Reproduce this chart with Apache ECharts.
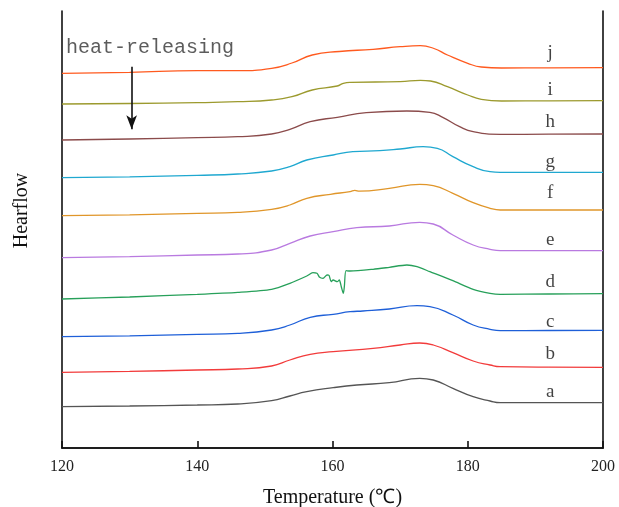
<!DOCTYPE html>
<html>
<head>
<meta charset="utf-8">
<script src="https://cdn.jsdelivr.net/npm/echarts@6/dist/echarts.min.js"></script>
<style>html,body{margin:0;padding:0;background:#fff}#c{width:619px;height:507px}</style>
</head>
<body>
<div id="c"></div>
<script>
// Temperature (°C) vs heat flow (arbitrary units, curves offset)
var xTicks = [120, 140, 160, 180, 200];
var curveNames = ['a','b','c','d','e','f','g','h','i','j'];
var curveColors = ['#555555','#F23B3B','#1E5FD8','#27A05A','#B97AE0','#E0962A','#1FA8D0','#8B4B4B','#9C9A2E','#FF5A1F'];

var a = [[120,41.3],[130,42],[140,43],[146,44],[151,47.3],[153.7,52],[156.2,56.3],[160.1,60.3],[163.6,63],[168.4,65.3],[172.9,69.7],[174.9,68],[177.8,59.7],[180.8,51.3],[183.3,47],[184.8,45.3],[192,45.3],[200,45.3]];
var b = [[120,75.7],[130,76.6],[140,78],[146,79],[151,82],[153.7,88],[156.7,93.7],[160.1,96.3],[166,99.7],[170,103],[172.9,105],[174.9,103],[177.8,95.3],[180.8,87],[183.3,83],[184.8,81.3],[192,80.8],[200,80.7]];
var c = [[120,111.3],[130,112.2],[140,113.7],[146,114.7],[151,118],[153.7,123],[156.7,130.7],[160.1,133.7],[162.6,136.3],[164.5,137],[168.4,139],[172.5,142.3],[174.4,141.3],[177.8,133],[180.8,123],[183.3,118.7],[184.8,117.3],[192,117.5],[200,117.7]];
var d = [[120,149],[130,151],[140,153.7],[146,155.7],[151,158.7],[153.7,164.7],[156.2,172],[157.1,175.3],[157.7,174.7],[158.1,170.7],[158.6,169.7],[159.2,173],[159.5,172.5],[159.8,166.3],[160.1,168],[160.7,166.3],[161.0,168],[161.3,161.3],[161.6,154.7],[161.75,161.3],[162.0,177.3],[162.6,177],[166,178.7],[168.4,180.7],[171,183],[172.5,181.3],[174.4,176.3],[177.8,167.3],[180.8,158.7],[183.3,154.7],[184.8,153.7],[192,154],[200,154.3]];
var e = [[120,190.3],[130,191.4],[140,193],[146,194],[151,198],[153.7,204.7],[156.7,212],[160.1,216.3],[163.6,220.3],[168.4,222],[172.9,225.7],[174.9,224],[177.8,213],[180.8,203],[183.3,198.7],[184.8,197.3],[192,197.3],[200,197.3]];
var f = [[120,232.3],[130,233.2],[140,234.7],[146,235.7],[151,238.7],[153.7,243],[156.2,249.7],[159.7,253.7],[162.6,256.4],[163.3,257.6],[164,256.8],[168.4,259.7],[172.9,263.7],[174.9,262.3],[177.8,254.7],[180.8,245.3],[183.3,239.7],[184.8,238],[192,238],[200,238]];
var g = [[120,270.3],[130,271.2],[140,272.7],[146,274],[151,277],[153.7,281.3],[156.2,288],[160.1,293],[163,296.3],[167,297.3],[170,299],[173.4,301.3],[175.5,299.7],[177.8,291.3],[180.8,281.3],[183.3,276.3],[184.8,275.7],[192,275.7],[200,275.7]];
var h = [[120,308],[130,309],[140,310.3],[146,311.3],[151,314],[153.7,318.7],[156.7,326.3],[160.7,330.7],[165,335.3],[171,337],[174.4,335.7],[176.3,330.7],[178.8,321.3],[180.8,316.3],[184.8,313.7],[192,313.8],[200,314]];
var i = [[120,344],[130,344.5],[140,345.3],[146,346.3],[151,348],[154,351.3],[157,358],[160.7,362],[161.6,364.7],[162.7,365.7],[170,366.3],[173,367.7],[174.5,367],[177,361.3],[180,353],[182,348.7],[185,347],[192,347.2],[200,347.3]];
var j = [[120,374.7],[130,375.7],[140,377.3],[146,377.3],[151,379.7],[154,385],[157,393],[161,396.5],[166,398.7],[170,401.3],[173,402.3],[175,399.5],[177,393],[180,384.7],[182,381],[185,380],[192,380.2],[200,380.3]];
var curves = [a,b,c,d,e,f,g,h,i,j];

// curve letter labels: [temperature, heat flow]
var labelPos = [[192.2,56.3],[192.2,94],[192.2,126.3],[192.2,166.3],[192.2,208],[192.2,254.7],[192.2,286.3],[192.2,326.3],[192.2,358],[192.2,395]];

// annotation
var noteText = 'heat-releasing';
var notePos = [120.6, 400];
var arrowFrom = [130.3, 381.3];
var arrowTo = [130.3, 318.7];

var serif = 'Liberation Serif, Times New Roman, serif';

var series = curves.map(function (dat, k) {
  return {
    name: curveNames[k],
    type: 'line',
    data: dat,
    showSymbol: false,
    symbol: 'none',
    smooth: k === 3 ? 0.25 : 0.5,
    lineStyle: { color: curveColors[k], width: 1.3 },
    silent: true,
    z: 3
  };
});

series.push({
  type: 'scatter',
  symbolSize: 0,
  data: labelPos.map(function (p, k) { return { value: p, name: curveNames[k] }; }),
  label: {
    show: true,
    position: 'inside',
    formatter: function (p) { return p.name; },
    fontFamily: serif,
    fontSize: 19,
    color: '#111'
  },
  silent: true,
  z: 5
});

series.push({
  type: 'scatter',
  symbolSize: 0,
  data: [{ value: notePos, name: noteText }],
  label: {
    show: true,
    position: 'right',
    distance: 0,
    formatter: function (p) { return p.name; },
    fontFamily: 'Liberation Mono, monospace',
    fontSize: 20,
    color: '#333'
  },
  markLine: {
    silent: true,
    animation: false,
    symbol: ['none', 'arrow'],
    symbolSize: [8, 14],
    label: { show: false },
    lineStyle: { color: '#111', width: 1.6, type: 'solid' },
    data: [[{ coord: arrowFrom }, { coord: arrowTo }]]
  },
  silent: true,
  z: 5
});

var chart = echarts.init(document.getElementById('c'), null, { renderer: 'canvas' });
chart.setOption({
  animation: false,
  backgroundColor: '#fff',
  grid: { left: 62, right: 16, top: 11, bottom: 59, containLabel: false, outerBoundsMode: 'none' },
  xAxis: [{
    type: 'value',
    min: xTicks[0],
    max: xTicks[xTicks.length - 1],
    interval: 20,
    name: 'Temperature (\u2103)',
    nameLocation: 'middle',
    nameGap: 40,
    nameTextStyle: { fontFamily: serif, fontSize: 20, color: '#111' },
    axisLine: { show: true, lineStyle: { color: '#111', width: 1.6 } },
    axisTick: { show: true, inside: true, length: 7, lineStyle: { color: '#111', width: 1.6 } },
    axisLabel: { fontFamily: serif, fontSize: 16, color: '#222', margin: 11 },
    splitLine: { show: false }
  }, {
    type: 'value',
    position: 'top',
    min: xTicks[0],
    max: xTicks[xTicks.length - 1],
    axisLine: { show: true, lineStyle: { color: '#111', width: 1.6 } },
    axisTick: { show: false },
    axisLabel: { show: false },
    splitLine: { show: false }
  }],
  yAxis: [{
    type: 'value',
    min: 0,
    max: 437,
    name: 'Hearflow',
    nameLocation: 'middle',
    nameGap: 30,
    nameTextStyle: { fontFamily: serif, fontSize: 20, color: '#111', padding: [0, 0, 0, 38] },
    axisLine: { show: true, lineStyle: { color: '#111', width: 1.6 } },
    axisTick: { show: false },
    axisLabel: { show: false },
    splitLine: { show: false }
  }, {
    type: 'value',
    position: 'right',
    min: 0,
    max: 437,
    axisLine: { show: true, lineStyle: { color: '#111', width: 1.6 } },
    axisTick: { show: false },
    axisLabel: { show: false },
    splitLine: { show: false }
  }],
  series: series
});
</script>
</body>
</html>
